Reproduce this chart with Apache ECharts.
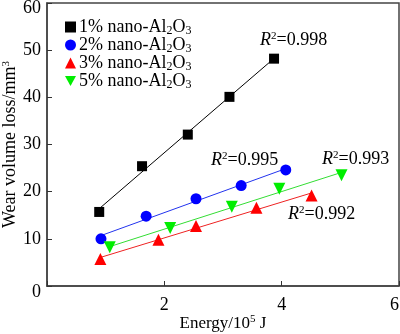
<!DOCTYPE html>
<html><head><meta charset="utf-8">
<script src="https://cdn.jsdelivr.net/npm/echarts@6/dist/echarts.min.js"></script>
<style>html,body{margin:0;padding:0;background:#fff}#c{width:400px;height:334px}</style>
</head><body><div id="c"></div>
<script>
var seriesNames = ['1% nano-Al2O3', '2% nano-Al2O3', '3% nano-Al2O3', '5% nano-Al2O3'];
var energy1 = [0.89, 1.62, 2.40, 3.11, 3.87];
var wear1   = [15.7, 25.4, 32.1, 40.1, 48.2];
var energy2 = [0.92, 1.69, 2.54, 3.31, 4.07];
var wear2   = [10.0, 14.8, 18.5, 21.3, 24.6];
var energy3 = [0.91, 1.90, 2.54, 3.57, 4.51];
var wear3   = [5.7, 9.8, 12.7, 16.6, 19.2];
var energy5 = [1.07, 2.10, 3.15, 3.96, 5.02];
var wear5   = [8.2, 12.3, 16.8, 20.6, 23.5];
var r2Labels = ['0.998', '0.995', '0.992', '0.993'];
var xTicks = [0, 2, 4, 6];
var yTicks = [0, 10, 20, 30, 40, 50, 60];

var colors = ['#000000', '#0000ff', '#ff0000', '#00ee00'];
var lineColors = ['#000000', '#2233ee', '#ee2222', '#33dd33'];
var symbols = ['rect', 'circle', 'triangle', 'path://M0,0 L10,0 L5,9 Z'];
var sizes = [10, 11, 12, 12];
var xs = [energy1, energy2, energy3, energy5];
var ys = [wear1, wear2, wear3, wear5];

function fit(x, y) {
  var n = x.length, sx = 0, sy = 0, sxx = 0, sxy = 0;
  for (var i = 0; i < n; i++) { sx += x[i]; sy += y[i]; sxx += x[i]*x[i]; sxy += x[i]*y[i]; }
  var b = (n*sxy - sx*sy) / (n*sxx - sx*sx);
  var a = (sy - b*sx) / n;
  var x0 = Math.min.apply(null, x), x1 = Math.max.apply(null, x);
  return [[x0, a + b*x0], [x1, a + b*x1]];
}

var font = 'Liberation Serif';
var fs = 18;
var series = [];
for (var k = 0; k < 4; k++) {
  series.push({
    name: 'fit' + k, type: 'line', data: fit(xs[k], ys[k]), symbol: 'none',
    lineStyle: { color: lineColors[k], width: 1 }, silent: true, z: 1
  });
}
for (var k = 0; k < 4; k++) {
  series.push({
    name: seriesNames[k], type: 'scatter',
    data: xs[k].map(function (v, i) { return [v, ys[k][i]]; }),
    symbol: symbols[k], symbolSize: sizes[k],
    itemStyle: { color: colors[k], opacity: 1 }, z: 3
  });
}

var chart = echarts.init(document.getElementById('c'));
var axisLabelStyle = { fontFamily: font, fontSize: fs, color: '#000' };
var supStyle = { fontFamily: font, fontSize: 11, color: '#000', verticalAlign: 'bottom', padding: [0, 0, 8, 0] };
var r2Rich = {
  i: { fontFamily: font, fontSize: fs, fontStyle: 'italic', color: '#000' },
  s: supStyle,
  t: { fontFamily: font, fontSize: fs, color: '#000' }
};
function r2Text(left, top, v) {
  return { type: 'text', left: left, top: top, z: 10,
    style: { text: '{i|R}{s|2}{t|=' + v + '}', rich: r2Rich } };
}
chart.setOption({
  animation: false,
  grid: { left: 47, top: 3, right: 1, bottom: 48, outerBoundsMode: 'none', containLabel: false,
          show: true, borderColor: '#444', borderWidth: 1.5 },
  legend: {
    orient: 'vertical', left: 60, top: 13, itemGap: -1, itemWidth: 11, itemHeight: 11,
    data: seriesNames,
    formatter: function (n) { return n.replace('Al2O3', 'Al{sub|2}O{sub|3}'); },
    textStyle: {
      fontFamily: font, fontSize: fs, color: '#000', padding: [0, 0, 0, -2],
      rich: { sub: { fontFamily: font, fontSize: 12, color: '#000', verticalAlign: 'top', padding: [8, 0, 0, 0] } }
    }
  },
  xAxis: {
    type: 'value', min: xTicks[0], max: xTicks[xTicks.length - 1], interval: 2,
    name: 'Energy/10{s|5} J', nameLocation: 'middle', nameGap: 28, nameMoveOverlap: false,
    nameTextStyle: { fontFamily: font, fontSize: 17, color: '#000', rich: { s: supStyle } },
    axisLine: { lineStyle: { color: '#444', width: 1.5 } },
    axisTick: { inside: true, length: 5, lineStyle: { color: '#333' } },
    axisLabel: Object.assign({ margin: 10, alignMaxLabel: 'right',
      formatter: function (v) { return v === 0 ? '' : v; } }, axisLabelStyle),
    splitLine: { show: false }
  },
  yAxis: {
    type: 'value', min: yTicks[0], max: yTicks[yTicks.length - 1], interval: 10,
    name: 'Wear volume loss/mm{s|3}', nameLocation: 'middle', nameGap: 27, nameMoveOverlap: false,
    nameTextStyle: { fontFamily: font, fontSize: fs, color: '#000', rich: { s: supStyle } },
    axisLine: { lineStyle: { color: '#444', width: 1.5 } },
    axisTick: { inside: true, length: 5, lineStyle: { color: '#333' } },
    axisLabel: Object.assign({
      margin: 6,
      formatter: function (v) {
        if (v === yTicks[0]) return '{lo|' + v + '}';
        if (v === yTicks[yTicks.length - 1]) return '{hi|' + v + '}';
        return '' + v;
      },
      rich: {
        lo: { fontFamily: font, fontSize: fs, color: '#000', padding: [12, 0, 0, 0] },
        hi: { fontFamily: font, fontSize: fs, color: '#000', padding: [10, 0, 0, 0] }
      }
    }, axisLabelStyle),
    splitLine: { show: false }
  },
  graphic: [
    r2Text(260, 31, r2Labels[0]),
    r2Text(211, 151, r2Labels[1]),
    r2Text(288, 205, r2Labels[2]),
    r2Text(322, 150, r2Labels[3])
  ],
  series: series
});
</script></body></html>
